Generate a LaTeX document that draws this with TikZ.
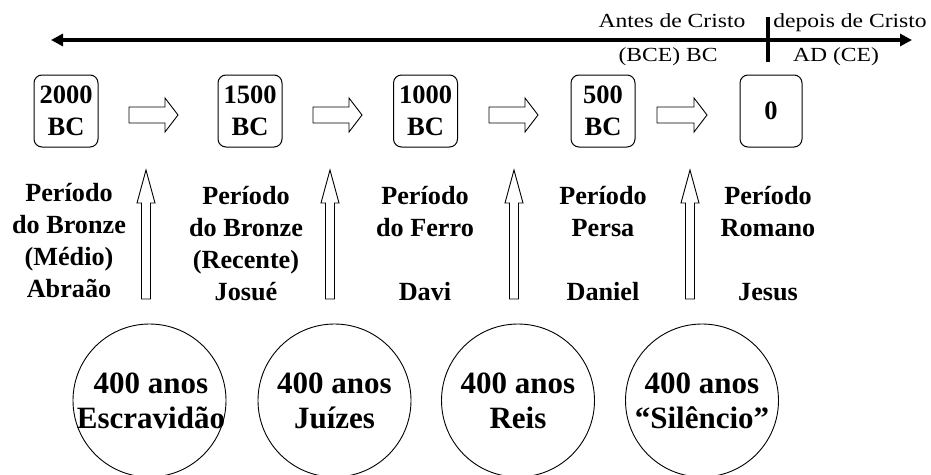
\documentclass[tikz,border=0pt]{standalone}
\usepackage{fontspec}
\setmainfont{Liberation Serif}
\newfontfamily\widefont[FakeStretch=1.18]{Liberation Serif}
\usetikzlibrary{arrows.meta}
\newcommand\rblock[2]{\draw[hollow] (#1,107) -- ({#2-13},107) -- ({#2-13},98) -- (#2,115) -- ({#2-13},132) -- ({#2-13},123) -- (#1,123) -- cycle;}
\newcommand\ublock[1]{\draw[hollow] ({#1-4.5},299) -- ({#1-4.5},203) -- ({#1-9},203) -- (#1,170) -- ({#1+9},203) -- ({#1+4.5},203) -- ({#1+4.5},299) -- cycle;}
\begin{document}
\begin{tikzpicture}[x=1pt,y=-1pt,
  every node/.style={inner sep=0pt},
  toplabel/.style={font=\widefont\fontsize{20}{24}\selectfont, anchor=base},
  yearbox/.style={draw, rounded corners=8pt, line width=1pt, minimum width=64pt, minimum height=72pt, align=center, font=\fontsize{26.5}{32}\selectfont\bfseries},
  period/.style={align=center, anchor=base, font=\fontsize{26.2}{31.7}\selectfont\bfseries},
  era/.style={draw, circle, line width=0.9pt, minimum size=153pt},
  eratext/.style={align=center, font=\fontsize{31}{35}\selectfont\bfseries},
  hollow/.style={draw, line width=0.9pt, fill=white, line join=miter}]
\useasboundingbox (0,0) rectangle (931,474);
% timeline
\coordinate (tl) at (51,40);
\coordinate (tr) at (912,40);
\draw[line width=4pt, {Triangle[length=12pt,width=12pt]}-{Triangle[length=12pt,width=12pt]}] (tl) -- (tr);
\coordinate (tickt) at (768,17);
\coordinate (tickb) at (768,62);
\draw[line width=4pt] (tickt) -- (tickb);
\node[toplabel] (ac) at (672,27) {Antes de Cristo};
\node[toplabel] (dc) at (850,27) {depois de Cristo};
\node[toplabel] (bce) at (668,61) {(BCE) BC};
\node[toplabel] (ad) at (836,61) {AD (CE)};
% year boxes
\node[yearbox] (y2000) at (66,111) {2000\\BC};
\node[yearbox] (y1500) at (250,111) {1500\\BC};
\node[yearbox] (y1000) at (425.5,111) {1000\\BC};
\node[yearbox] (y500) at (603,111) {500\\BC};
\node[yearbox, minimum width=62pt] (y0) at (771,111) {0};
% right block arrows
\rblock{129}{178}
\rblock{313}{362}
\rblock{489}{538}
\rblock{657}{707}
% up block arrows
\ublock{146}
\ublock{330}
\ublock{514}
\ublock{690}
% periods (anchor = baseline of last line)
\node[period] (p1) at (69,297) {Período\\do Bronze\\(Médio)\\Abraão};
\node[period] (p2) at (246,300) {Período\\do Bronze\\(Recente)\\Josué};
\node[period] (p3) at (425,300) {Período\\do Ferro\\~\\Davi};
\node[period] (p4) at (603,300) {Período\\Persa\\~\\Daniel};
\node[period] (p5) at (768,300) {Período\\Romano\\~\\Jesus};
% circles
\node[era] (c1) at (149.5,400.5) {};
\node[era] (c2) at (334.5,400.5) {};
\node[era] (c3) at (518,400.5) {};
\node[era] (c4) at (702,400.5) {};
\node[eratext] (t1) at (151,401) {400 anos\\Escravidão};
\node[eratext] (t2) at (334.5,401) {400 anos\\Juízes};
\node[eratext] (t3) at (518,401) {400 anos\\Reis};
\node[eratext] (t4) at (702,401) {400 anos\\“Silêncio”};
\end{tikzpicture}
\end{document}
